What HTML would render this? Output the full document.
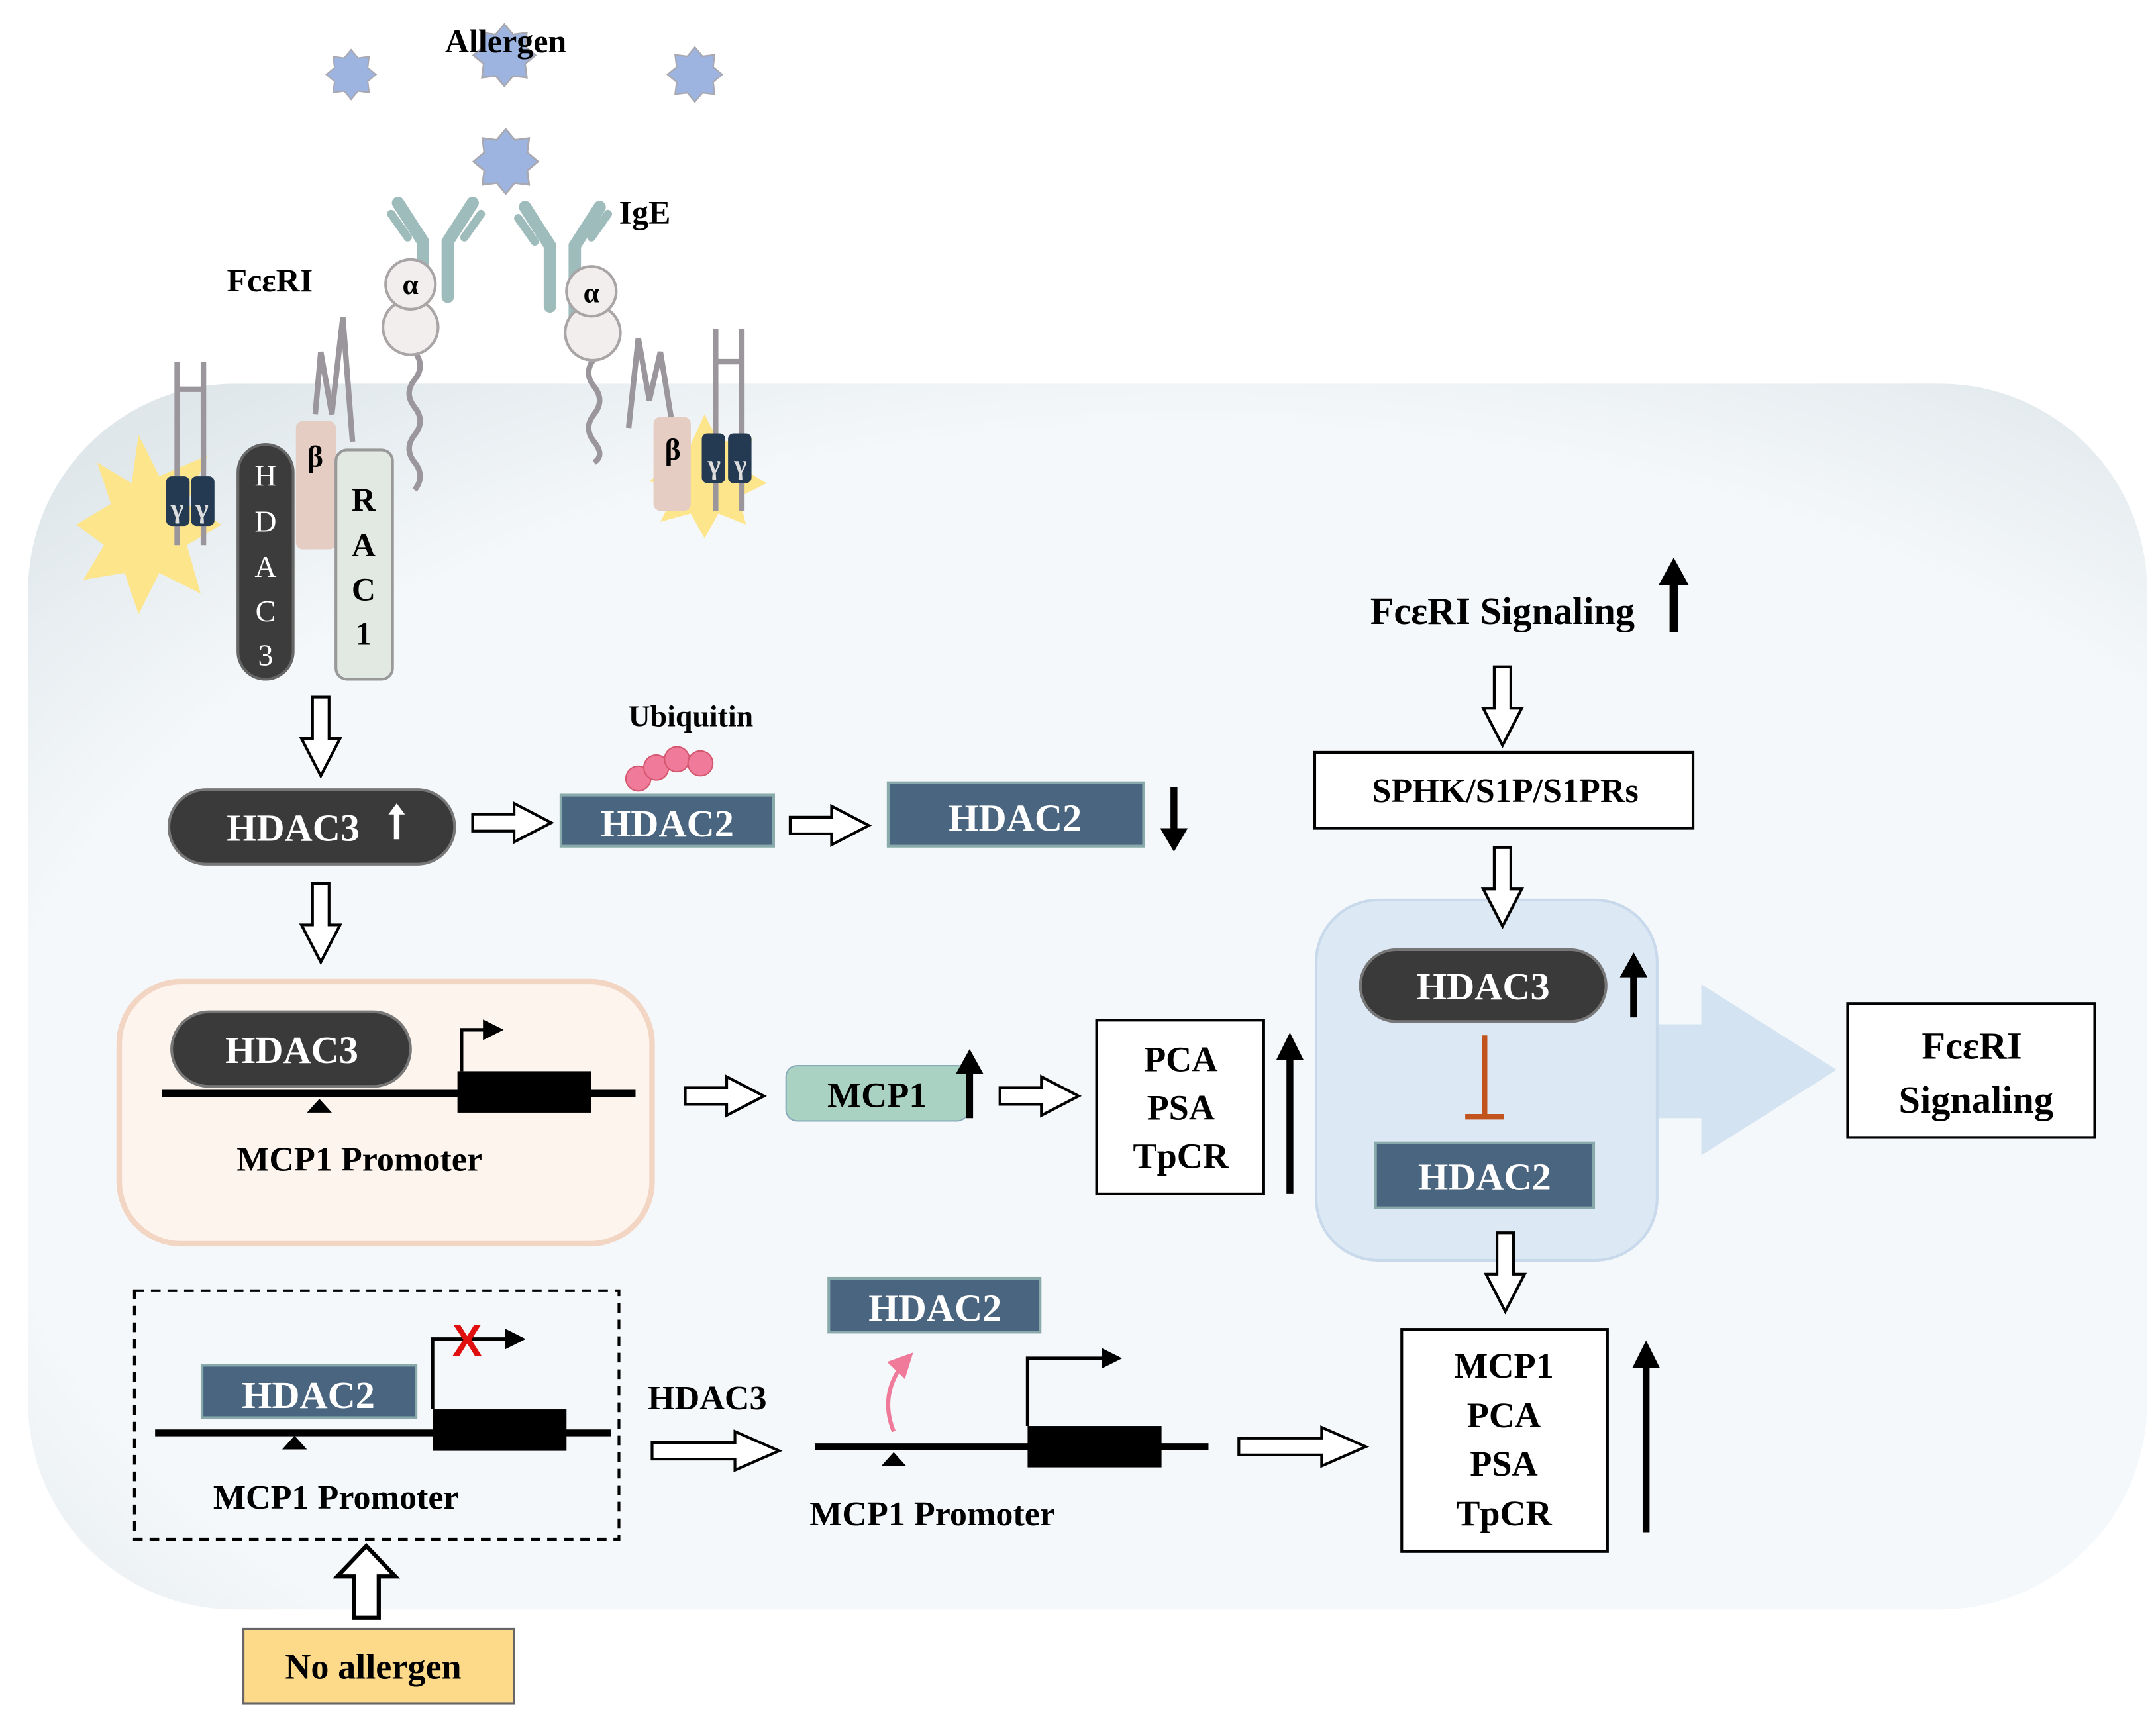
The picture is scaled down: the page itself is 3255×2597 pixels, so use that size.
<!DOCTYPE html>
<html><head><meta charset="utf-8"><style>
html,body{margin:0;padding:0;background:#fff}
svg{display:block}
text{font-family:"Liberation Serif",serif;font-weight:bold}
</style></head><body>
<svg width="3255" height="2597" viewBox="0 0 1561 1246" xmlns="http://www.w3.org/2000/svg">
<defs>
<radialGradient id="cell" cx="0.55" cy="0.6" r="0.75">
<stop offset="0.75" stop-color="#f5f8fa"/><stop offset="1" stop-color="#dfe7eb"/>
</radialGradient>
<marker id="ah" markerWidth="6" markerHeight="6" refX="5" refY="3" orient="auto"><path d="M0,0 L6,3 L0,6z" fill="#000"/></marker>
<marker id="ahp" markerWidth="6" markerHeight="6" refX="5" refY="3" orient="auto"><path d="M0,0 L6,3 L0,6z" fill="#f07a9a"/></marker>
<g id="star"><polygon points="0,-18 5,-12 13,-13 12,-5 18,0 12,5 13,13 5,12 0,18 -5,12 -13,13 -12,5 -18,0 -12,-5 -13,-13 -5,-12" fill="#9db4e0" stroke="#a8a8b0" stroke-width="1"/></g>
</defs>
<rect x="20" y="278" width="1535" height="888" rx="150" fill="url(#cell)"/>
<use href="#star" transform="translate(254,54) scale(1)"/>
<use href="#star" transform="translate(365,40) scale(1.25)"/>
<use href="#star" transform="translate(503,54) scale(1.1)"/>
<use href="#star" transform="translate(366,117) scale(1.3)"/>
<text x="366" y="38" font-size="24" text-anchor="middle">Allergen</text>
<text x="448" y="162" font-size="24">IgE</text>
<text x="164" y="211" font-size="24">FcεRI</text>
<polygon points="100,315 115,345 150,330 135,365 160,380 135,395 145,430 115,415 100,445 90,415 60,420 75,395 55,380 80,365 70,335 95,350" fill="#fde58c"/>
<polygon points="510,300 520,320 545,318 535,338 555,350 535,360 540,380 520,372 510,390 500,372 478,378 488,358 470,348 490,338 482,318 500,322" fill="#fde58c"/>
<g stroke="#9a969c" stroke-width="4" fill="none">
<line x1="128" y1="262" x2="128" y2="395"/><line x1="147" y1="262" x2="147" y2="395"/><line x1="128" y1="282" x2="147" y2="282"/>
<line x1="518" y1="238" x2="518" y2="370"/><line x1="537" y1="238" x2="537" y2="370"/><line x1="518" y1="262" x2="537" y2="262"/>
<path d="M228,300 L232,255 240,300 L248,230 255,320"/>
<path d="M455,310 L462,245 470,290 L478,255 487,310"/>
<path d="M300,255 q8,10 0,20 q-8,10 0,20 q8,10 0,20 q-8,10 0,20 q8,10 0,20"/>
<path d="M430,240 q8,10 0,20 q-8,10 0,20 q8,10 0,20 q-8,10 0,20 q8,10 0,15"/>
</g>
<rect x="120" y="345" width="17" height="36" rx="4" fill="#243a52"/><rect x="138" y="345" width="17" height="36" rx="4" fill="#243a52"/>
<text x="128" y="375" text-anchor="middle" font-size="20" fill="#ddd">γ</text><text x="146" y="375" text-anchor="middle" font-size="20" fill="#ddd">γ</text>
<rect x="508" y="314" width="17" height="36" rx="4" fill="#243a52"/><rect x="527" y="314" width="17" height="36" rx="4" fill="#243a52"/>
<text x="517" y="343" text-anchor="middle" font-size="20" fill="#ddd">γ</text><text x="536" y="343" text-anchor="middle" font-size="20" fill="#ddd">γ</text>
<rect x="214" y="305" width="29" height="93" rx="5" fill="#e5cdc3"/><text x="228" y="338" font-size="22" text-anchor="middle">β</text>
<rect x="473" y="302" width="27" height="68" rx="5" fill="#e5cdc3"/><text x="487" y="333" font-size="22" text-anchor="middle">β</text>
<rect x="172" y="322" width="40" height="170" rx="20" fill="#3c3c3c" stroke="#666" stroke-width="2"/>
<g font-size="22" fill="#fff" text-anchor="middle"><text x="192" y="352" style="font-weight:normal">H</text><text x="192" y="385" style="font-weight:normal">D</text><text x="192" y="418" style="font-weight:normal">A</text><text x="192" y="450" style="font-weight:normal">C</text><text x="192" y="482" style="font-weight:normal">3</text></g>
<rect x="243" y="326" width="41" height="166" rx="8" fill="#e2e9e2" stroke="#999" stroke-width="2"/>
<g font-size="24" text-anchor="middle"><text x="263" y="370">R</text><text x="263" y="403">A</text><text x="263" y="435">C</text><text x="263" y="467">1</text></g>
<g stroke="#9fbcbc" stroke-width="9" fill="none" stroke-linecap="round">
<path d="M288,147 L306,175 L306,215"/><path d="M342,147 L324,175 L324,215"/>
<path d="M380,150 L398,178 L398,222"/><path d="M434,150 L416,178 L416,232"/>
</g>
<g stroke="#9fbcbc" stroke-width="6" fill="none" stroke-linecap="round"><path d="M283,155 L295,172"/><path d="M348,155 L336,172"/><path d="M375,158 L387,175"/><path d="M440,155 L428,172"/></g>
<g fill="#f2eeee" stroke="#a9a4a6" stroke-width="2">
<circle cx="297" cy="237" r="20"/><circle cx="297" cy="206" r="18"/>
<circle cx="429" cy="241" r="20"/><circle cx="428" cy="211" r="18"/>
</g>
<text x="297" y="213" font-size="21" text-anchor="middle">α</text><text x="428" y="219" font-size="21" text-anchor="middle">α</text>
<!-- right blue box first -->
<polygon points="1195,742 1232,742 1232,713 1330,775 1232,837 1232,810 1195,810" fill="#d3e3f1"/>
<rect x="953" y="652" width="247" height="261" rx="45" fill="#dde8f5" stroke="#c8d9ec" stroke-width="2"/>
<g fill="#fff" stroke="#000" stroke-width="2">
<path d="M226,505 h12 v30 h8 l-14,27 l-14,-27 h8z"/>
<path d="M226,640 h12 v30 h8 l-14,27 l-14,-27 h8z"/>
<path d="M1082,483 h12 v30 h8 l-14,27 l-14,-27 h8z"/>
<path d="M1082,614 h12 v30 h8 l-14,27 l-14,-27 h8z"/>
<path d="M1084,893 h12 v30 h8 l-14,27 l-14,-27 h8z"/>
<path d="M342,590 v12 h30 v8 l27,-14 l-27,-14 v8z"/>
<path d="M572,592 v12 h30 v8 l27,-14 l-27,-14 v8z"/>
<path d="M496,788 v12 h30 v8 l27,-14 l-27,-14 v8z"/>
<path d="M724,788 v12 h30 v8 l27,-14 l-27,-14 v8z"/>
<path d="M472,1045 v12 h60 v8 l32,-14 l-32,-14 v8z"/>
<path d="M897,1042 v12 h60 v8 l32,-14 l-32,-14 v8z"/>
<path d="M256,1172 v-30 h-12 l21,-22 l21,22 h-12 v30z" stroke-width="3"/>
</g>
<rect x="122" y="572" width="207" height="54" rx="27" fill="#3a3a3a" stroke="#777" stroke-width="2"/>
<text x="212" y="609" font-size="28" fill="#fff" text-anchor="middle">HDAC3</text>
<line x1="287" y1="608" x2="287" y2="588" stroke="#fff" stroke-width="4"/>
<path d="M281,590 l6,-8 l6,8z" fill="#fff"/>
<text x="500" y="526" font-size="22" text-anchor="middle">Ubiquitin</text>
<g fill="#f07a9a" stroke="#d4566f" stroke-width="1"><circle cx="462" cy="564" r="9"/><circle cx="475" cy="556" r="9"/><circle cx="490" cy="550" r="9"/><circle cx="507" cy="553" r="9"/></g>
<rect x="406" y="576" width="154" height="37" fill="#4a6580" stroke="#8aa" stroke-width="2"/>
<text x="483" y="606" font-size="28" fill="#fff" text-anchor="middle">HDAC2</text>
<rect x="643" y="567" width="185" height="46" fill="#4a6580" stroke="#8aa" stroke-width="2"/>
<text x="735" y="602" font-size="28" fill="#fff" text-anchor="middle">HDAC2</text>
<line x1="850" y1="570" x2="850" y2="605" stroke="#000" stroke-width="5"/><path d="M840,600 l10,17 l10,-17z"/>
<rect x="86" y="711" width="386" height="190" rx="45" fill="#fdf4ee" stroke="#f2d5c3" stroke-width="4"/>
<rect x="124" y="733" width="173" height="54" rx="27" fill="#3a3a3a" stroke="#777" stroke-width="2"/>
<text x="211" y="770" font-size="28" fill="#fff" text-anchor="middle">HDAC3</text>
<line x1="117" y1="792" x2="460" y2="792" stroke="#000" stroke-width="5"/>
<rect x="331" y="776" width="97" height="30" fill="#000"/>
<polyline points="334,776 334,746 362,746" fill="none" stroke="#000" stroke-width="2.5" marker-end="url(#ah)"/>
<path d="M222,806 l9,-10 l9,10z"/>
<text x="260" y="848" font-size="25" text-anchor="middle">MCP1 Promoter</text>
<rect x="569" y="772" width="132" height="40" rx="8" fill="#a9d2c2" stroke="#8ab" stroke-width="1"/>
<text x="635" y="802" font-size="26" text-anchor="middle">MCP1</text>
<line x1="702" y1="810" x2="702" y2="775" stroke="#000" stroke-width="5"/><path d="M692,778 l10,-18 l10,18z"/>
<rect x="794" y="739" width="121" height="126" fill="#fff" stroke="#000" stroke-width="2"/>
<text x="855" y="776" font-size="26" text-anchor="middle">PCA</text><text x="855" y="811" font-size="26" text-anchor="middle">PSA</text><text x="855" y="846" font-size="26" text-anchor="middle">TpCR</text>
<line x1="934" y1="865" x2="934" y2="765" stroke="#000" stroke-width="5"/><path d="M924,768 l10,-20 l10,20z"/>
<text x="1088" y="452" font-size="28" text-anchor="middle">FcεRI Signaling</text>
<line x1="1212" y1="458" x2="1212" y2="420" stroke="#000" stroke-width="6"/><path d="M1201,424 l11,-20 l11,20z"/>
<rect x="952" y="545" width="274" height="55" fill="#fff" stroke="#000" stroke-width="2"/>
<text x="1090" y="581" font-size="25" text-anchor="middle">SPHK/S1P/S1PRs</text>
<rect x="985" y="688" width="178" height="52" rx="26" fill="#3a3a3a" stroke="#777" stroke-width="2"/>
<text x="1074" y="724" font-size="28" fill="#fff" text-anchor="middle">HDAC3</text>
<line x1="1183" y1="737" x2="1183" y2="705" stroke="#000" stroke-width="5"/><path d="M1173,708 l10,-18 l10,18z"/>
<line x1="1075" y1="750" x2="1075" y2="809" stroke="#c0541c" stroke-width="4"/><line x1="1061" y1="809" x2="1089" y2="809" stroke="#c0541c" stroke-width="4"/>
<rect x="996" y="828" width="158" height="47" fill="#4a6580" stroke="#8aa" stroke-width="2"/>
<text x="1075" y="862" font-size="28" fill="#fff" text-anchor="middle">HDAC2</text>
<rect x="1338" y="727" width="179" height="97" fill="#fff" stroke="#000" stroke-width="2"/>
<text x="1428" y="767" font-size="28" text-anchor="middle">FcεRI</text><text x="1431" y="806" font-size="28" text-anchor="middle">Signaling</text>
<rect x="97" y="935" width="351" height="180" fill="none" stroke="#000" stroke-width="2" stroke-dasharray="7,5"/>
<rect x="146" y="989" width="155" height="38" fill="#4a6580" stroke="#8aa" stroke-width="2"/>
<text x="223" y="1020" font-size="28" fill="#fff" text-anchor="middle">HDAC2</text>
<line x1="112" y1="1038" x2="442" y2="1038" stroke="#000" stroke-width="5"/>
<rect x="313" y="1021" width="97" height="30" fill="#000"/>
<polyline points="313,1021 313,970 378,970" fill="none" stroke="#000" stroke-width="2.5" marker-end="url(#ah)"/>
<text x="338" y="982" font-size="32" fill="#e01010" text-anchor="middle" style="font-family:'Liberation Sans',sans-serif">X</text>
<path d="M204,1050 l9,-10 l9,10z"/>
<text x="243" y="1093" font-size="25" text-anchor="middle">MCP1 Promoter</text>
<text x="512" y="1021" font-size="25" text-anchor="middle">HDAC3</text>
<rect x="600" y="926" width="153" height="39" fill="#4a6580" stroke="#8aa" stroke-width="2"/>
<text x="677" y="957" font-size="28" fill="#fff" text-anchor="middle">HDAC2</text>
<path d="M647,1037 q-12,-30 12,-55" fill="none" stroke="#f07a9a" stroke-width="3" marker-end="url(#ahp)"/>
<line x1="590" y1="1048" x2="875" y2="1048" stroke="#000" stroke-width="5"/>
<rect x="744" y="1033" width="97" height="30" fill="#000"/>
<polyline points="744,1033 744,984 810,984" fill="none" stroke="#000" stroke-width="2.5" marker-end="url(#ah)"/>
<path d="M638,1062 l9,-10 l9,10z"/>
<text x="675" y="1105" font-size="25" text-anchor="middle">MCP1 Promoter</text>
<rect x="1015" y="963" width="149" height="161" fill="#fff" stroke="#000" stroke-width="2"/>
<text x="1089" y="998" font-size="26" text-anchor="middle">MCP1</text><text x="1089" y="1034" font-size="26" text-anchor="middle">PCA</text><text x="1089" y="1069" font-size="26" text-anchor="middle">PSA</text><text x="1089" y="1105" font-size="26" text-anchor="middle">TpCR</text>
<line x1="1192" y1="1110" x2="1192" y2="988" stroke="#000" stroke-width="5"/><path d="M1182,991 l10,-20 l10,20z"/>
<rect x="176" y="1180" width="196" height="54" fill="#fdd98a" stroke="#666" stroke-width="1.5"/>
<text x="270" y="1216" font-size="26" text-anchor="middle">No allergen</text>
</svg>
</body></html>
